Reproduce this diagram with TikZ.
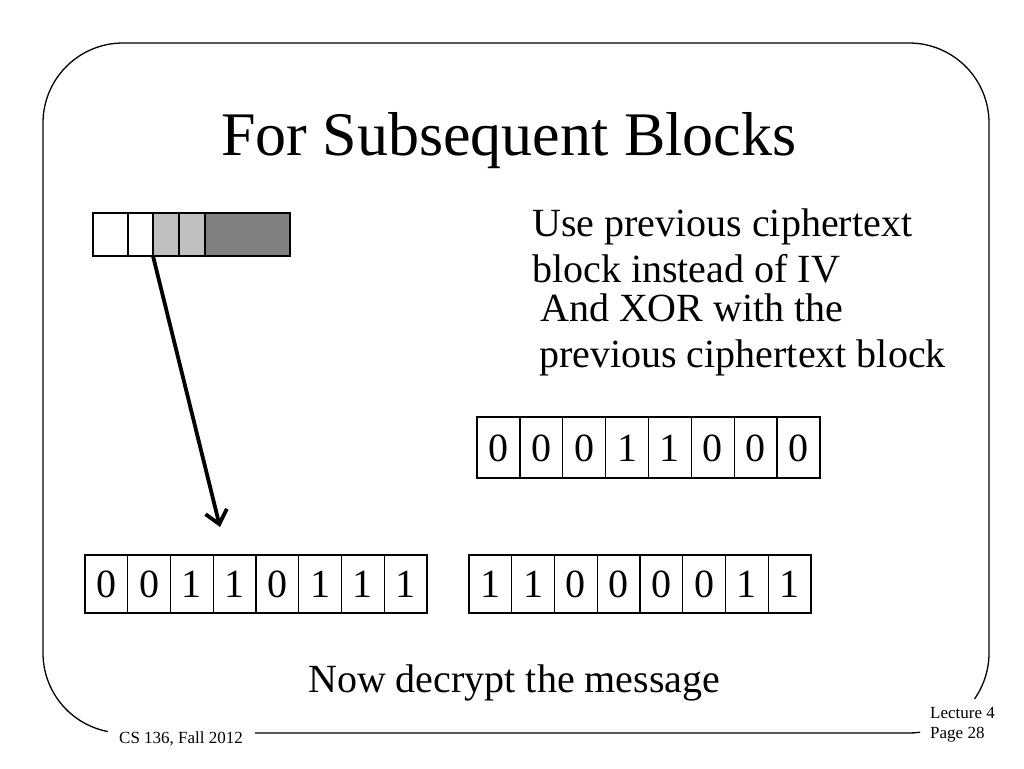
\documentclass[tikz,border=0pt]{standalone}
\usepackage{fontspec}
\setmainfont{Liberation Serif}
\usetikzlibrary{arrows.meta}
\definecolor{lightcell}{HTML}{C0C0C0}
\definecolor{darkcell}{HTML}{808080}
\begin{document}
\begin{tikzpicture}[x=1pt,y=-1pt,
  cell/.style={draw=black,line width=1.3pt},
  bit/.style={inner sep=0pt,font=\fontsize{40}{46}\selectfont},
  body/.style={inner sep=0pt,anchor=base west,font=\fontsize{40}{46}\selectfont},
  foot/.style={inner sep=0pt,anchor=base west,font=\fontsize{17}{20}\selectfont},
  frame/.style={draw=black,line width=1.3pt},
  bigarrow/.style={line width=3.8pt,-{Straight Barb[length=13pt,width=22pt,line width=3.8pt]}}]
\useasboundingbox (0,0) rectangle (1024,768);
% frame
\draw[frame] ([shift={(101:80)}]123,653) arc[start angle=101,end angle=180,radius=80]
  -- (43,123) arc[start angle=180,end angle=270,radius=80]
  -- (909,43) arc[start angle=270,end angle=360,radius=80]
  -- (989,653) arc[start angle=0,end angle=35,radius=80];
\draw[frame] ([shift={(82:80)}]909,653) arc[start angle=82,end angle=90,radius=80] -- (255,733);
% title
\node[inner sep=0pt,anchor=base west,font=\fontsize{62}{70}\selectfont] (title) at (221,155) {For Subsequent Blocks};
% top block
\draw[cell,fill=white] (93,213) rectangle (128,256);
\draw[cell,fill=white] (128,213) rectangle (153,256);
\draw[cell,fill=lightcell] (153,213) rectangle (179,256);
\draw[cell,fill=lightcell] (179,213) rectangle (205,256);
\draw[cell,fill=darkcell] (205,213) rectangle (290,256);
\coordinate (src) at (153,256);
\coordinate (dst) at (220,527);
\draw[bigarrow] (src) -- (dst);
% texts
\node[body] (t1) at (532,236) {Use previous ciphertext};
\node[body] (t2) at (532,282) {block instead of IV};
\node[body] (t3) at (540,321) {And XOR with the};
\node[body] (t4) at (539,367) {previous ciphertext block};
\node[body] (t5) at (308,692) {Now decrypt the message};
% middle row
\foreach \b [count=\i from 0] in {0,0,0,1,1,0,0,0} {
  \draw[cell] (477+\i*42.875,417) rectangle (477+\i*42.875+42.875,478);
  \node[bit] (m\i) at (477+\i*42.875+21.44,448) {\b};
}
% bottom left row
\foreach \b [count=\i from 0] in {0,0,1,1,0,1,1,1} {
  \draw[cell] (85+\i*42.75,555) rectangle (85+\i*42.75+42.75,613);
  \node[bit] (l\i) at (85+\i*42.75+21.375,584) {\b};
}
% bottom right row
\foreach \b [count=\i from 0] in {1,1,0,0,0,0,1,1} {
  \draw[cell] (469+\i*42.75,555) rectangle (469+\i*42.75+42.75,613);
  \node[bit] (r\i) at (469+\i*42.75+21.375,584) {\b};
}
% footer
\node[foot] (f1) at (119,743) {CS 136, Fall 2012};
\node[foot] (f2) at (930,718) {Lecture 4};
\node[foot] (f3) at (930,738) {Page 28};
\end{tikzpicture}
\end{document}
